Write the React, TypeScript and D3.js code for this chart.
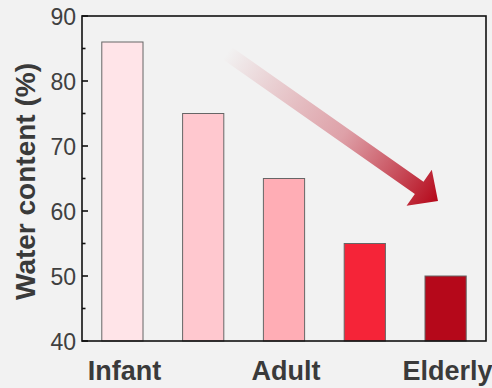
import React, { useRef, useEffect } from "react";
import * as d3 from "d3";

// age groups, only some of them get a label under the axis
const groups = ["Infant", "Child", "Adult", "Middle-aged", "Elderly"];
const shownLabels = ["Infant", "Adult", "Elderly"];
const water = [86, 75, 65, 55, 50];
const barColors = ["#ffe4e8", "#ffc8cf", "#ffadb5", "#f52438", "#b5081a"];
const yTicks = [40, 50, 60, 70, 80, 90];
const yMinor = [45, 55, 65, 75, 85];

export default function App() {
  const ref = useRef<SVGSVGElement>(null);
  const width = 492;
  const height = 388;
  const m = { top: 16, right: 6, bottom: 47, left: 82 };

  useEffect(() => {
    const svg = d3.select(ref.current);
    svg.selectAll("*").remove();

    const x = d3
      .scaleBand()
      .domain(groups)
      .range([m.left, width - m.right])
      .paddingInner(0.49)
      .paddingOuter(0.245);
    const y = d3.scaleLinear().domain([40, 90]).range([height - m.bottom, m.top]);

    svg.append("rect").attr("width", width).attr("height", height).attr("fill", "#f2f2f2");

    // arrow geometry: tail -> tip
    const tail = [227, 53];
    const tip = [438, 201];
    const dx = tip[0] - tail[0];
    const dy = tip[1] - tail[1];
    const len = Math.hypot(dx, dy);
    const ang = (Math.atan2(dy, dx) * 180) / Math.PI;

    // gradient lives in the arrow's rotated frame
    const defs = svg.append("defs");
    const grad = defs
      .append("linearGradient")
      .attr("id", "arrowGrad")
      .attr("gradientUnits", "userSpaceOnUse")
      .attr("x1", 0)
      .attr("y1", 0)
      .attr("x2", len)
      .attr("y2", 0);
    grad.append("stop").attr("offset", 0).attr("stop-color", "#b5081a").attr("stop-opacity", 0);
    grad.append("stop").attr("offset", 0.55).attr("stop-color", "#c0283a").attr("stop-opacity", 0.4);
    grad.append("stop").attr("offset", 1).attr("stop-color", "#b5081a").attr("stop-opacity", 1);

    svg
      .append("g")
      .selectAll("rect")
      .data(water)
      .join("rect")
      .attr("x", (d, i) => x(groups[i])!)
      .attr("y", (d) => y(d))
      .attr("width", x.bandwidth())
      .attr("height", (d) => y(40) - y(d))
      .attr("fill", (d, i) => barColors[i])
      .attr("stroke", "#666")
      .attr("stroke-width", 1);

    const sw = 7.5; // half shaft width
    const hl = 23; // head length
    const hw = 22; // half head width
    const arrowPath = `M0,${-sw} L${len - hl},${-sw} L${len - hl},${-hw} L${len},0 L${len - hl},${hw} L${len - hl},${sw} L0,${sw} Z`;
    svg
      .append("path")
      .attr("d", arrowPath)
      .attr("transform", `translate(${tail[0]},${tail[1]}) rotate(${ang})`)
      .attr("fill", "url(#arrowGrad)");

    // frame
    const frame = svg.append("g").attr("stroke", "#111").attr("stroke-width", 1.6).attr("fill", "none");
    frame
      .append("rect")
      .attr("x", m.left)
      .attr("y", m.top)
      .attr("width", width - m.right - m.left)
      .attr("height", height - m.bottom - m.top);

    // y ticks point inward
    const yAxis = svg.append("g");
    yAxis
      .selectAll("line.major")
      .data(yTicks)
      .join("line")
      .attr("class", "major")
      .attr("x1", m.left)
      .attr("x2", m.left + 6)
      .attr("y1", (d) => y(d))
      .attr("y2", (d) => y(d))
      .attr("stroke", "#111")
      .attr("stroke-width", 1.6);
    yAxis
      .selectAll("line.minor")
      .data(yMinor)
      .join("line")
      .attr("class", "minor")
      .attr("x1", m.left)
      .attr("x2", m.left + 3.5)
      .attr("y1", (d) => y(d))
      .attr("y2", (d) => y(d))
      .attr("stroke", "#111")
      .attr("stroke-width", 1.6);
    yAxis
      .selectAll("text")
      .data(yTicks)
      .join("text")
      .attr("x", m.left - 6)
      .attr("y", (d) => y(d) + 8.5)
      .attr("text-anchor", "end")
      .attr("font-family", "Liberation Sans, Arial, sans-serif")
      .attr("font-size", 23)
      .attr("fill", "#404040")
      .text((d) => d);

    svg
      .append("g")
      .selectAll("text")
      .data(shownLabels)
      .join("text")
      .attr("x", (d) => x(d)! + x.bandwidth() / 2 + 2)
      .attr("y", 380)
      .attr("text-anchor", "middle")
      .attr("font-family", "Liberation Sans, Arial, sans-serif")
      .attr("font-weight", "bold")
      .attr("font-size", 27)
      .attr("fill", "#3a3a3a")
      .text((d) => d);

    svg
      .append("text")
      .attr("transform", `translate(35,${(m.top + height - m.bottom) / 2 + 3}) rotate(-90)`)
      .attr("text-anchor", "middle")
      .attr("font-family", "Liberation Sans, Arial, sans-serif")
      .attr("font-weight", "bold")
      .attr("font-size", 28)
      .attr("fill", "#3a3a3a")
      .text("Water content (%)");
  }, []);

  return (
    <div style={{ position: "fixed", top: 0, left: 0 }}>
      <svg ref={ref} width={width} height={height} style={{ display: "block" }}></svg>
    </div>
  );
}
